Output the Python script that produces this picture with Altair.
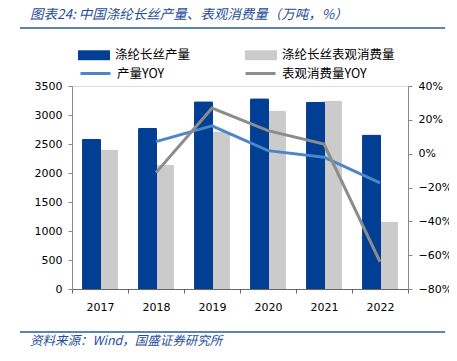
import altair as alt
import pandas as pd

years = ["2017", "2018", "2019", "2020", "2021", "2022"]
production = [2590, 2780, 3235, 3290, 3228, 2663]
consumption = [2405, 2143, 2715, 3078, 3252, 1165]
prod_yoy = [None, 7.1, 16.4, 1.8, -2.1, -17.2]
cons_yoy = [None, -11.2, 26.9, 13.6, 5.7, -63.9]

bar_names = ["涤纶长丝产量", "涤纶长丝表观消费量"]
line_names = ["产量YOY", "表观消费量YOY"]

title_text = "图表24:  中国涤纶长丝产量、表观消费量（万吨，%）"
source_text = "资料来源：Wind，国盛证券研究所"

bar_rows = []
for i, y in enumerate(years):
    bar_rows.append({"year": y, "series": bar_names[1], "value": consumption[i], "ord": 0})
    bar_rows.append({"year": y, "series": bar_names[0], "value": production[i], "ord": 1})
bars_df = pd.DataFrame(bar_rows)

line_rows = []
for i, y in enumerate(years):
    if prod_yoy[i] is not None:
        line_rows.append({"year": y, "series": line_names[0], "yoy": prod_yoy[i] / 100})
    if cons_yoy[i] is not None:
        line_rows.append({"year": y, "series": line_names[1], "yoy": cons_yoy[i] / 100})
lines_df = pd.DataFrame(line_rows)

FONT = "Noto Sans CJK SC"
NUMFONT = "DejaVu Sans"
BLUE = "#003F93"
LGREY = "#CBCBCB"
LBLUE = "#4A86C8"
DGREY = "#8C8C8C"
TBLUE = "#1F4E9A"

x_enc = alt.X("year:N", sort=years, title=None,
              scale=alt.Scale(paddingInner=0, paddingOuter=0),
              axis=alt.Axis(labelAngle=0, labelFont=NUMFONT, labelFontSize=11, labelColor="#000000",
                            domainColor="#666666", tickColor="#666666", tickBand="extent",
                            tickSize=4, labelPadding=8, grid=False))

bars = alt.Chart(bars_df).mark_bar(width=19, cornerRadiusTopLeft=1.5, cornerRadiusTopRight=1.5).encode(
    x=x_enc,
    xOffset=alt.XOffset("series:N", sort=bar_names,
                        scale=alt.Scale(paddingInner=0, paddingOuter=0.65)),
    y=alt.Y("value:Q", title=None,
            scale=alt.Scale(domain=[0, 3500], nice=False),
            axis=alt.Axis(values=[0, 500, 1000, 1500, 2000, 2500, 3000, 3500], format="d",
                          labelFont=NUMFONT, labelFontSize=11, labelColor="#000000",
                          domainColor="#888888", tickColor="#888888", tickSize=4,
                          labelPadding=6, grid=False)),
    fill=alt.Fill("series:N", sort=bar_names,
                  scale=alt.Scale(domain=bar_names, range=[BLUE, LGREY]),
                  legend=alt.Legend(title=None, orient="none", legendX=6, legendY=-47,
                                    direction="horizontal", columns=2, columnPadding=54,
                                    symbolType="M-1,-0.31H1V0.31H-1Z", symbolSize=1024,
                                    symbolStrokeWidth=0, labelFont=FONT, labelFontSize=12.5,
                                    labelColor="#000000", labelOffset=5, labelLimit=300)),
    order=alt.Order("ord:Q"),
)

lines = alt.Chart(lines_df).mark_line(strokeWidth=3).encode(
    x=alt.X("year:N", sort=years),
    y=alt.Y("yoy:Q", title=None,
            scale=alt.Scale(domain=[-0.8, 0.4], nice=False),
            axis=alt.Axis(orient="right", format=".0%",
                          values=[-0.8, -0.6, -0.4, -0.2, 0, 0.2, 0.4],
                          labelFont=NUMFONT, labelFontSize=11, labelColor="#000000",
                          domainColor="#888888", tickColor="#888888", tickSize=4,
                          labelPadding=6, grid=False)),
    stroke=alt.Stroke("series:N", sort=line_names,
                      scale=alt.Scale(domain=line_names, range=[LBLUE, DGREY]),
                      legend=alt.Legend(title=None, orient="none", legendX=7, legendY=-29,
                                        direction="horizontal", columns=2, columnPadding=74,
                                        symbolType="stroke", symbolSize=900, symbolStrokeWidth=3,
                                        labelFont=FONT, labelFontSize=12.5,
                                        labelColor="#000000", labelOffset=5, labelLimit=300)),
)

deco_df = pd.DataFrame({"d": [0]})
title_line = alt.Chart(deco_df).mark_rule(color="#2659A5", strokeWidth=1.5).encode(
    x=alt.value(-52), x2=alt.value(373), y=alt.value(-58))
source_line = alt.Chart(deco_df).mark_rule(color="#2659A5", strokeWidth=1.5).encode(
    x=alt.value(-52), x2=alt.value(373), y=alt.value(246))
title_mark = alt.Chart(deco_df).mark_text(
    text=title_text, font=FONT, fontSize=13.5, fontStyle="italic", color=TBLUE,
    align="left", baseline="middle").encode(x=alt.value(-42), y=alt.value(-71))
source_mark = alt.Chart(deco_df).mark_text(
    text=source_text, font=FONT, fontSize=12.5, fontStyle="italic", color=TBLUE,
    align="left", baseline="middle").encode(x=alt.value(-42), y=alt.value(255))

chart = alt.layer(bars, lines, title_line, source_line, title_mark, source_mark).resolve_scale(
    y="independent", fill="independent", stroke="independent"
).properties(
    width=336, height=203,
    autosize=alt.AutoSizeParams(type="none"),
    padding={"left": 64, "top": 78, "right": 41, "bottom": 64},
).configure_view(stroke=None).configure(background="white")

chart.save("out.html", embed_options={"renderer": "svg", "actions": False})
